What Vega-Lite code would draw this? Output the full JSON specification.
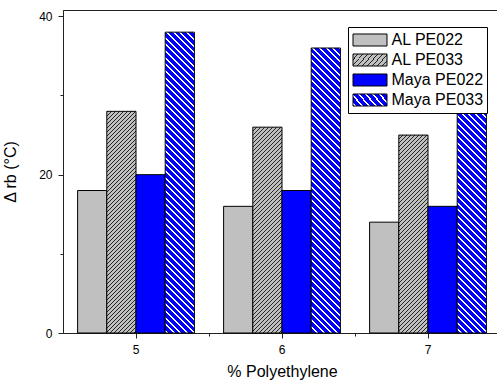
{
  "$schema": "https://vega.github.io/schema/vega-lite/v6.json",
  "width": 438,
  "height": 323,
  "autosize": "none",
  "padding": {"left": 63, "top": 10, "right": 0, "bottom": 49},
  "background": "white",
  "params": [
    {"name": "legAL", "value": {"gradient": "linear", "x1": 0, "y1": 0, "x2": 1.3077, "y2": 0.4615, "stops": [
      {"offset":0,"color":"#222"},{"offset":0.02,"color":"#222"},{"offset":0.02,"color":"silver"},{"offset":0.1,"color":"silver"},
      {"offset":0.1,"color":"#222"},{"offset":0.12,"color":"#222"},{"offset":0.12,"color":"silver"},{"offset":0.2,"color":"silver"},
      {"offset":0.2,"color":"#222"},{"offset":0.22,"color":"#222"},{"offset":0.22,"color":"silver"},{"offset":0.3,"color":"silver"},
      {"offset":0.3,"color":"#222"},{"offset":0.32,"color":"#222"},{"offset":0.32,"color":"silver"},{"offset":0.4,"color":"silver"},
      {"offset":0.4,"color":"#222"},{"offset":0.42,"color":"#222"},{"offset":0.42,"color":"silver"},{"offset":0.5,"color":"silver"},
      {"offset":0.5,"color":"#222"},{"offset":0.52,"color":"#222"},{"offset":0.52,"color":"silver"},{"offset":0.6,"color":"silver"},
      {"offset":0.6,"color":"#222"},{"offset":0.62,"color":"#222"},{"offset":0.62,"color":"silver"},{"offset":0.7,"color":"silver"},
      {"offset":0.7,"color":"#222"},{"offset":0.72,"color":"#222"},{"offset":0.72,"color":"silver"},{"offset":0.8,"color":"silver"},
      {"offset":0.8,"color":"#222"},{"offset":0.82,"color":"#222"},{"offset":0.82,"color":"silver"},{"offset":0.9,"color":"silver"},
      {"offset":0.9,"color":"#222"},{"offset":0.92,"color":"#222"},{"offset":0.92,"color":"silver"}
    ]}},
    {"name": "legMaya", "value": {"gradient": "linear", "x1": 1, "y1": 0, "x2": -0.3077, "y2": 0.4615, "stops": [
      {"offset":0,"color":"#fff"},{"offset":0.04,"color":"#fff"},{"offset":0.04,"color":"#00f"},{"offset":0.14,"color":"#00f"},
      {"offset":0.14,"color":"#fff"},{"offset":0.18,"color":"#fff"},{"offset":0.18,"color":"#00f"},{"offset":0.28,"color":"#00f"},
      {"offset":0.28,"color":"#fff"},{"offset":0.32,"color":"#fff"},{"offset":0.32,"color":"#00f"},{"offset":0.42,"color":"#00f"},
      {"offset":0.42,"color":"#fff"},{"offset":0.46,"color":"#fff"},{"offset":0.46,"color":"#00f"},{"offset":0.56,"color":"#00f"},
      {"offset":0.56,"color":"#fff"},{"offset":0.6,"color":"#fff"},{"offset":0.6,"color":"#00f"},{"offset":0.7,"color":"#00f"},
      {"offset":0.7,"color":"#fff"},{"offset":0.74,"color":"#fff"},{"offset":0.74,"color":"#00f"},{"offset":0.84,"color":"#00f"},
      {"offset":0.84,"color":"#fff"},{"offset":0.88,"color":"#fff"},{"offset":0.88,"color":"#00f"}
    ]}},
    {"name": "alStops", "value": [
      {"offset":0,"color":"#222"},{"offset":0.004,"color":"#222"},{"offset":0.004,"color":"silver"},{"offset":0.016,"color":"silver"},
      {"offset":0.016,"color":"#222"},{"offset":0.02,"color":"#222"},{"offset":0.02,"color":"silver"},{"offset":0.032,"color":"silver"},
      {"offset":0.032,"color":"#222"},{"offset":0.036,"color":"#222"},{"offset":0.036,"color":"silver"},{"offset":0.048,"color":"silver"},
      {"offset":0.048,"color":"#222"},{"offset":0.052,"color":"#222"},{"offset":0.052,"color":"silver"},{"offset":0.064,"color":"silver"},
      {"offset":0.064,"color":"#222"},{"offset":0.068,"color":"#222"},{"offset":0.068,"color":"silver"},{"offset":0.08,"color":"silver"},
      {"offset":0.08,"color":"#222"},{"offset":0.084,"color":"#222"},{"offset":0.084,"color":"silver"},{"offset":0.096,"color":"silver"},
      {"offset":0.096,"color":"#222"},{"offset":0.1,"color":"#222"},{"offset":0.1,"color":"silver"},{"offset":0.112,"color":"silver"},
      {"offset":0.112,"color":"#222"},{"offset":0.116,"color":"#222"},{"offset":0.116,"color":"silver"},{"offset":0.128,"color":"silver"},
      {"offset":0.128,"color":"#222"},{"offset":0.132,"color":"#222"},{"offset":0.132,"color":"silver"},{"offset":0.144,"color":"silver"},
      {"offset":0.144,"color":"#222"},{"offset":0.148,"color":"#222"},{"offset":0.148,"color":"silver"},{"offset":0.16,"color":"silver"},
      {"offset":0.16,"color":"#222"},{"offset":0.164,"color":"#222"},{"offset":0.164,"color":"silver"},{"offset":0.176,"color":"silver"},
      {"offset":0.176,"color":"#222"},{"offset":0.18,"color":"#222"},{"offset":0.18,"color":"silver"},{"offset":0.192,"color":"silver"},
      {"offset":0.192,"color":"#222"},{"offset":0.196,"color":"#222"},{"offset":0.196,"color":"silver"},{"offset":0.208,"color":"silver"},
      {"offset":0.208,"color":"#222"},{"offset":0.212,"color":"#222"},{"offset":0.212,"color":"silver"},{"offset":0.224,"color":"silver"},
      {"offset":0.224,"color":"#222"},{"offset":0.228,"color":"#222"},{"offset":0.228,"color":"silver"},{"offset":0.24,"color":"silver"},
      {"offset":0.24,"color":"#222"},{"offset":0.244,"color":"#222"},{"offset":0.244,"color":"silver"},{"offset":0.256,"color":"silver"},
      {"offset":0.256,"color":"#222"},{"offset":0.26,"color":"#222"},{"offset":0.26,"color":"silver"},{"offset":0.272,"color":"silver"},
      {"offset":0.272,"color":"#222"},{"offset":0.276,"color":"#222"},{"offset":0.276,"color":"silver"},{"offset":0.288,"color":"silver"},
      {"offset":0.288,"color":"#222"},{"offset":0.292,"color":"#222"},{"offset":0.292,"color":"silver"},{"offset":0.304,"color":"silver"},
      {"offset":0.304,"color":"#222"},{"offset":0.308,"color":"#222"},{"offset":0.308,"color":"silver"},{"offset":0.32,"color":"silver"},
      {"offset":0.32,"color":"#222"},{"offset":0.324,"color":"#222"},{"offset":0.324,"color":"silver"},{"offset":0.336,"color":"silver"},
      {"offset":0.336,"color":"#222"},{"offset":0.34,"color":"#222"},{"offset":0.34,"color":"silver"},{"offset":0.352,"color":"silver"},
      {"offset":0.352,"color":"#222"},{"offset":0.356,"color":"#222"},{"offset":0.356,"color":"silver"},{"offset":0.368,"color":"silver"},
      {"offset":0.368,"color":"#222"},{"offset":0.372,"color":"#222"},{"offset":0.372,"color":"silver"},{"offset":0.384,"color":"silver"},
      {"offset":0.384,"color":"#222"},{"offset":0.388,"color":"#222"},{"offset":0.388,"color":"silver"},{"offset":0.4,"color":"silver"},
      {"offset":0.4,"color":"#222"},{"offset":0.404,"color":"#222"},{"offset":0.404,"color":"silver"},{"offset":0.416,"color":"silver"},
      {"offset":0.416,"color":"#222"},{"offset":0.42,"color":"#222"},{"offset":0.42,"color":"silver"},{"offset":0.432,"color":"silver"},
      {"offset":0.432,"color":"#222"},{"offset":0.436,"color":"#222"},{"offset":0.436,"color":"silver"},{"offset":0.448,"color":"silver"},
      {"offset":0.448,"color":"#222"},{"offset":0.452,"color":"#222"},{"offset":0.452,"color":"silver"},{"offset":0.464,"color":"silver"},
      {"offset":0.464,"color":"#222"},{"offset":0.468,"color":"#222"},{"offset":0.468,"color":"silver"},{"offset":0.48,"color":"silver"},
      {"offset":0.48,"color":"#222"},{"offset":0.484,"color":"#222"},{"offset":0.484,"color":"silver"},{"offset":0.496,"color":"silver"},
      {"offset":0.496,"color":"#222"},{"offset":0.5,"color":"#222"},{"offset":0.5,"color":"silver"},{"offset":0.512,"color":"silver"},
      {"offset":0.512,"color":"#222"},{"offset":0.516,"color":"#222"},{"offset":0.516,"color":"silver"},{"offset":0.528,"color":"silver"},
      {"offset":0.528,"color":"#222"},{"offset":0.532,"color":"#222"},{"offset":0.532,"color":"silver"},{"offset":0.544,"color":"silver"},
      {"offset":0.544,"color":"#222"},{"offset":0.548,"color":"#222"},{"offset":0.548,"color":"silver"},{"offset":0.56,"color":"silver"},
      {"offset":0.56,"color":"#222"},{"offset":0.564,"color":"#222"},{"offset":0.564,"color":"silver"},{"offset":0.576,"color":"silver"},
      {"offset":0.576,"color":"#222"},{"offset":0.58,"color":"#222"},{"offset":0.58,"color":"silver"},{"offset":0.592,"color":"silver"},
      {"offset":0.592,"color":"#222"},{"offset":0.596,"color":"#222"},{"offset":0.596,"color":"silver"},{"offset":0.608,"color":"silver"},
      {"offset":0.608,"color":"#222"},{"offset":0.612,"color":"#222"},{"offset":0.612,"color":"silver"},{"offset":0.624,"color":"silver"},
      {"offset":0.624,"color":"#222"},{"offset":0.628,"color":"#222"},{"offset":0.628,"color":"silver"},{"offset":0.64,"color":"silver"},
      {"offset":0.64,"color":"#222"},{"offset":0.644,"color":"#222"},{"offset":0.644,"color":"silver"},{"offset":0.656,"color":"silver"},
      {"offset":0.656,"color":"#222"},{"offset":0.66,"color":"#222"},{"offset":0.66,"color":"silver"},{"offset":0.672,"color":"silver"},
      {"offset":0.672,"color":"#222"},{"offset":0.676,"color":"#222"},{"offset":0.676,"color":"silver"},{"offset":0.688,"color":"silver"},
      {"offset":0.688,"color":"#222"},{"offset":0.692,"color":"#222"},{"offset":0.692,"color":"silver"},{"offset":0.704,"color":"silver"},
      {"offset":0.704,"color":"#222"},{"offset":0.708,"color":"#222"},{"offset":0.708,"color":"silver"},{"offset":0.72,"color":"silver"},
      {"offset":0.72,"color":"#222"},{"offset":0.724,"color":"#222"},{"offset":0.724,"color":"silver"},{"offset":0.736,"color":"silver"},
      {"offset":0.736,"color":"#222"},{"offset":0.74,"color":"#222"},{"offset":0.74,"color":"silver"},{"offset":0.752,"color":"silver"},
      {"offset":0.752,"color":"#222"},{"offset":0.756,"color":"#222"},{"offset":0.756,"color":"silver"},{"offset":0.768,"color":"silver"},
      {"offset":0.768,"color":"#222"},{"offset":0.772,"color":"#222"},{"offset":0.772,"color":"silver"},{"offset":0.784,"color":"silver"},
      {"offset":0.784,"color":"#222"},{"offset":0.788,"color":"#222"},{"offset":0.788,"color":"silver"},{"offset":0.8,"color":"silver"},
      {"offset":0.8,"color":"#222"},{"offset":0.804,"color":"#222"},{"offset":0.804,"color":"silver"},{"offset":0.816,"color":"silver"},
      {"offset":0.816,"color":"#222"},{"offset":0.82,"color":"#222"},{"offset":0.82,"color":"silver"},{"offset":0.832,"color":"silver"},
      {"offset":0.832,"color":"#222"},{"offset":0.836,"color":"#222"},{"offset":0.836,"color":"silver"},{"offset":0.848,"color":"silver"},
      {"offset":0.848,"color":"#222"},{"offset":0.852,"color":"#222"},{"offset":0.852,"color":"silver"},{"offset":0.864,"color":"silver"},
      {"offset":0.864,"color":"#222"},{"offset":0.868,"color":"#222"},{"offset":0.868,"color":"silver"},{"offset":0.88,"color":"silver"},
      {"offset":0.88,"color":"#222"},{"offset":0.884,"color":"#222"},{"offset":0.884,"color":"silver"},{"offset":0.896,"color":"silver"},
      {"offset":0.896,"color":"#222"},{"offset":0.9,"color":"#222"},{"offset":0.9,"color":"silver"},{"offset":0.912,"color":"silver"},
      {"offset":0.912,"color":"#222"},{"offset":0.916,"color":"#222"},{"offset":0.916,"color":"silver"},{"offset":0.928,"color":"silver"},
      {"offset":0.928,"color":"#222"},{"offset":0.932,"color":"#222"},{"offset":0.932,"color":"silver"},{"offset":0.944,"color":"silver"},
      {"offset":0.944,"color":"#222"},{"offset":0.948,"color":"#222"},{"offset":0.948,"color":"silver"},{"offset":0.96,"color":"silver"},
      {"offset":0.96,"color":"#222"},{"offset":0.964,"color":"#222"},{"offset":0.964,"color":"silver"},{"offset":0.976,"color":"silver"},
      {"offset":0.976,"color":"#222"},{"offset":0.98,"color":"#222"},{"offset":0.98,"color":"silver"},{"offset":0.992,"color":"silver"},
      {"offset":0.992,"color":"#222"},{"offset":0.996,"color":"#222"},{"offset":0.996,"color":"silver"}
    ]},
    {"name": "mayaStops", "value": [
      {"offset":0,"color":"#fff"},{"offset":0.006,"color":"#fff"},{"offset":0.006,"color":"#00f"},{"offset":0.02,"color":"#00f"},
      {"offset":0.02,"color":"#fff"},{"offset":0.026,"color":"#fff"},{"offset":0.026,"color":"#00f"},{"offset":0.04,"color":"#00f"},
      {"offset":0.04,"color":"#fff"},{"offset":0.046,"color":"#fff"},{"offset":0.046,"color":"#00f"},{"offset":0.06,"color":"#00f"},
      {"offset":0.06,"color":"#fff"},{"offset":0.066,"color":"#fff"},{"offset":0.066,"color":"#00f"},{"offset":0.08,"color":"#00f"},
      {"offset":0.08,"color":"#fff"},{"offset":0.086,"color":"#fff"},{"offset":0.086,"color":"#00f"},{"offset":0.1,"color":"#00f"},
      {"offset":0.1,"color":"#fff"},{"offset":0.106,"color":"#fff"},{"offset":0.106,"color":"#00f"},{"offset":0.12,"color":"#00f"},
      {"offset":0.12,"color":"#fff"},{"offset":0.126,"color":"#fff"},{"offset":0.126,"color":"#00f"},{"offset":0.14,"color":"#00f"},
      {"offset":0.14,"color":"#fff"},{"offset":0.146,"color":"#fff"},{"offset":0.146,"color":"#00f"},{"offset":0.16,"color":"#00f"},
      {"offset":0.16,"color":"#fff"},{"offset":0.166,"color":"#fff"},{"offset":0.166,"color":"#00f"},{"offset":0.18,"color":"#00f"},
      {"offset":0.18,"color":"#fff"},{"offset":0.186,"color":"#fff"},{"offset":0.186,"color":"#00f"},{"offset":0.2,"color":"#00f"},
      {"offset":0.2,"color":"#fff"},{"offset":0.206,"color":"#fff"},{"offset":0.206,"color":"#00f"},{"offset":0.22,"color":"#00f"},
      {"offset":0.22,"color":"#fff"},{"offset":0.226,"color":"#fff"},{"offset":0.226,"color":"#00f"},{"offset":0.24,"color":"#00f"},
      {"offset":0.24,"color":"#fff"},{"offset":0.246,"color":"#fff"},{"offset":0.246,"color":"#00f"},{"offset":0.26,"color":"#00f"},
      {"offset":0.26,"color":"#fff"},{"offset":0.266,"color":"#fff"},{"offset":0.266,"color":"#00f"},{"offset":0.28,"color":"#00f"},
      {"offset":0.28,"color":"#fff"},{"offset":0.286,"color":"#fff"},{"offset":0.286,"color":"#00f"},{"offset":0.3,"color":"#00f"},
      {"offset":0.3,"color":"#fff"},{"offset":0.306,"color":"#fff"},{"offset":0.306,"color":"#00f"},{"offset":0.32,"color":"#00f"},
      {"offset":0.32,"color":"#fff"},{"offset":0.326,"color":"#fff"},{"offset":0.326,"color":"#00f"},{"offset":0.34,"color":"#00f"},
      {"offset":0.34,"color":"#fff"},{"offset":0.346,"color":"#fff"},{"offset":0.346,"color":"#00f"},{"offset":0.36,"color":"#00f"},
      {"offset":0.36,"color":"#fff"},{"offset":0.366,"color":"#fff"},{"offset":0.366,"color":"#00f"},{"offset":0.38,"color":"#00f"},
      {"offset":0.38,"color":"#fff"},{"offset":0.386,"color":"#fff"},{"offset":0.386,"color":"#00f"},{"offset":0.4,"color":"#00f"},
      {"offset":0.4,"color":"#fff"},{"offset":0.406,"color":"#fff"},{"offset":0.406,"color":"#00f"},{"offset":0.42,"color":"#00f"},
      {"offset":0.42,"color":"#fff"},{"offset":0.426,"color":"#fff"},{"offset":0.426,"color":"#00f"},{"offset":0.44,"color":"#00f"},
      {"offset":0.44,"color":"#fff"},{"offset":0.446,"color":"#fff"},{"offset":0.446,"color":"#00f"},{"offset":0.46,"color":"#00f"},
      {"offset":0.46,"color":"#fff"},{"offset":0.466,"color":"#fff"},{"offset":0.466,"color":"#00f"},{"offset":0.48,"color":"#00f"},
      {"offset":0.48,"color":"#fff"},{"offset":0.486,"color":"#fff"},{"offset":0.486,"color":"#00f"},{"offset":0.5,"color":"#00f"},
      {"offset":0.5,"color":"#fff"},{"offset":0.506,"color":"#fff"},{"offset":0.506,"color":"#00f"},{"offset":0.52,"color":"#00f"},
      {"offset":0.52,"color":"#fff"},{"offset":0.526,"color":"#fff"},{"offset":0.526,"color":"#00f"},{"offset":0.54,"color":"#00f"},
      {"offset":0.54,"color":"#fff"},{"offset":0.546,"color":"#fff"},{"offset":0.546,"color":"#00f"},{"offset":0.56,"color":"#00f"},
      {"offset":0.56,"color":"#fff"},{"offset":0.566,"color":"#fff"},{"offset":0.566,"color":"#00f"},{"offset":0.58,"color":"#00f"},
      {"offset":0.58,"color":"#fff"},{"offset":0.586,"color":"#fff"},{"offset":0.586,"color":"#00f"},{"offset":0.6,"color":"#00f"},
      {"offset":0.6,"color":"#fff"},{"offset":0.606,"color":"#fff"},{"offset":0.606,"color":"#00f"},{"offset":0.62,"color":"#00f"},
      {"offset":0.62,"color":"#fff"},{"offset":0.626,"color":"#fff"},{"offset":0.626,"color":"#00f"},{"offset":0.64,"color":"#00f"},
      {"offset":0.64,"color":"#fff"},{"offset":0.646,"color":"#fff"},{"offset":0.646,"color":"#00f"},{"offset":0.66,"color":"#00f"},
      {"offset":0.66,"color":"#fff"},{"offset":0.666,"color":"#fff"},{"offset":0.666,"color":"#00f"},{"offset":0.68,"color":"#00f"},
      {"offset":0.68,"color":"#fff"},{"offset":0.686,"color":"#fff"},{"offset":0.686,"color":"#00f"},{"offset":0.7,"color":"#00f"},
      {"offset":0.7,"color":"#fff"},{"offset":0.706,"color":"#fff"},{"offset":0.706,"color":"#00f"},{"offset":0.72,"color":"#00f"},
      {"offset":0.72,"color":"#fff"},{"offset":0.726,"color":"#fff"},{"offset":0.726,"color":"#00f"},{"offset":0.74,"color":"#00f"},
      {"offset":0.74,"color":"#fff"},{"offset":0.746,"color":"#fff"},{"offset":0.746,"color":"#00f"},{"offset":0.76,"color":"#00f"},
      {"offset":0.76,"color":"#fff"},{"offset":0.766,"color":"#fff"},{"offset":0.766,"color":"#00f"},{"offset":0.78,"color":"#00f"},
      {"offset":0.78,"color":"#fff"},{"offset":0.786,"color":"#fff"},{"offset":0.786,"color":"#00f"},{"offset":0.8,"color":"#00f"},
      {"offset":0.8,"color":"#fff"},{"offset":0.806,"color":"#fff"},{"offset":0.806,"color":"#00f"},{"offset":0.82,"color":"#00f"},
      {"offset":0.82,"color":"#fff"},{"offset":0.826,"color":"#fff"},{"offset":0.826,"color":"#00f"},{"offset":0.84,"color":"#00f"},
      {"offset":0.84,"color":"#fff"},{"offset":0.846,"color":"#fff"},{"offset":0.846,"color":"#00f"},{"offset":0.86,"color":"#00f"},
      {"offset":0.86,"color":"#fff"},{"offset":0.866,"color":"#fff"},{"offset":0.866,"color":"#00f"},{"offset":0.88,"color":"#00f"},
      {"offset":0.88,"color":"#fff"},{"offset":0.886,"color":"#fff"},{"offset":0.886,"color":"#00f"},{"offset":0.9,"color":"#00f"},
      {"offset":0.9,"color":"#fff"},{"offset":0.906,"color":"#fff"},{"offset":0.906,"color":"#00f"},{"offset":0.92,"color":"#00f"},
      {"offset":0.92,"color":"#fff"},{"offset":0.926,"color":"#fff"},{"offset":0.926,"color":"#00f"},{"offset":0.94,"color":"#00f"},
      {"offset":0.94,"color":"#fff"},{"offset":0.946,"color":"#fff"},{"offset":0.946,"color":"#00f"},{"offset":0.96,"color":"#00f"},
      {"offset":0.96,"color":"#fff"},{"offset":0.966,"color":"#fff"},{"offset":0.966,"color":"#00f"},{"offset":0.98,"color":"#00f"},
      {"offset":0.98,"color":"#fff"},{"offset":0.986,"color":"#fff"},{"offset":0.986,"color":"#00f"}
    ]}
  ],
  "data": {
    "values": [
      {"pct": 5, "series": "AL PE022", "value": 18},
      {"pct": 5, "series": "AL PE033", "value": 28},
      {"pct": 5, "series": "Maya PE022", "value": 20},
      {"pct": 5, "series": "Maya PE033", "value": 38},
      {"pct": 6, "series": "AL PE022", "value": 16},
      {"pct": 6, "series": "AL PE033", "value": 26},
      {"pct": 6, "series": "Maya PE022", "value": 18},
      {"pct": 6, "series": "Maya PE033", "value": 36},
      {"pct": 7, "series": "AL PE022", "value": 14},
      {"pct": 7, "series": "AL PE033", "value": 25},
      {"pct": 7, "series": "Maya PE022", "value": 16},
      {"pct": 7, "series": "Maya PE033", "value": 34}
    ]
  },
  "layer": [
    {
      "mark": {"type": "bar", "stroke": "black", "strokeWidth": 1},
      "encoding": {
        "x": {
          "field": "pct",
          "type": "ordinal",
          "scale": {"paddingInner": 0.2, "paddingOuter": 0.1},
          "axis": {"title": "% Polyethylene", "labelAngle": 0, "tickSize": 5, "labelPadding": 6, "titlePadding": 8, "titleFontSize": 16, "orient": "bottom"}
        },
        "xOffset": {
          "field": "series",
          "type": "nominal",
          "scale": {"domain": ["AL PE022", "AL PE033", "Maya PE022", "Maya PE033"], "paddingInner": 0, "paddingOuter": 0}
        },
        "y": {
          "field": "value",
          "type": "quantitative",
          "scale": {"domain": [0, 40.8], "nice": false},
          "axis": {
            "title": "Δ rb (°C)",
            "titleFontSize": 16,
            "values": [0, 10, 20, 30, 40],
            "labelExpr": "datum.value % 20 === 0 ? datum.label : ''",
            "tickSize": {"condition": {"test": "datum.value % 20 !== 0", "value": 3}, "value": 5},
            "labelPadding": 6,
            "titlePadding": 20
          }
        },
        "fill": {
          "field": "series",
          "type": "nominal",
          "condition": [
            {"test": "datum.series === 'AL PE033'", "value": {"expr": "{gradient: 'linear', x1: 0, y1: 0, x2: datum.pct === 5 ? 0.14603 : datum.pct === 6 ? 0.16891 : 0.18239, y2: datum.pct === 5 ? 1.10857 : datum.pct === 6 ? 1.19065 : 1.23623, stops: alStops}"}},
            {"test": "datum.series === 'Maya PE033'", "value": {"expr": "{gradient: 'linear', x1: 1, y1: 0, x2: datum.pct === 5 ? 0.89345 : datum.pct === 6 ? 0.88141 : 0.86722, y2: datum.pct === 5 ? 1.0977 : datum.pct === 6 ? 1.15744 : 1.22397, stops: mayaStops}"}}
          ],
          "scale": {
            "domain": ["AL PE022", "AL PE033", "Maya PE022", "Maya PE033"],
            "range": ["silver", {"expr": "legAL"}, "#0000ff", {"expr": "legMaya"}]
          },
          "legend": {
            "orient": "none",
            "legendX": 285,
            "legendY": 17,
            "title": null,
            "fillColor": "white",
            "strokeColor": "black",
            "padding": 3,
            "clipHeight": 20,
            "rowPadding": 0,
            "labelFont": "Liberation Sans",
            "labelFontSize": 16,
            "labelColor": "black",
            "labelOffset": 4,
            "symbolOffset": 1.5,
            "symbolSize": 1156,
            "symbolType": "M-1,-0.353H1V0.353H-1Z",
            "symbolStrokeColor": "black",
            "symbolStrokeWidth": 1,
            "symbolOpacity": 1,
            "encode": {
              "symbols": {
                "update": {
                  "stroke": {"value": "black"},
                  "strokeWidth": {"value": 1}
                }
              }
            }
          }
        }
      }
    },
    {
      "mark": {"type": "point", "opacity": 0},
      "encoding": {
        "x": {
          "field": "pct",
          "type": "quantitative",
          "scale": {"domain": [4.5, 7.5], "nice": false, "zero": false},
          "axis": {"values": [5.5, 6.5], "labels": false, "tickSize": 3, "domain": false, "grid": false, "title": null, "orient": "bottom"}
        }
      }
    }
  ],
  "resolve": {"scale": {"x": "independent"}, "axis": {"x": "independent"}},
  "config": {
    "view": {"stroke": "#222", "strokeWidth": 1},
    "axis": {
      "grid": false,
      "labelFont": "Liberation Sans",
      "titleFont": "Liberation Sans",
      "labelFontSize": 12,
      "titleFontSize": 15,
      "titleFontWeight": "normal",
      "labelColor": "black",
      "titleColor": "black",
      "domainColor": "#222",
      "tickColor": "#222",
      "domainWidth": 1,
      "tickWidth": 1
    }
  }
}
